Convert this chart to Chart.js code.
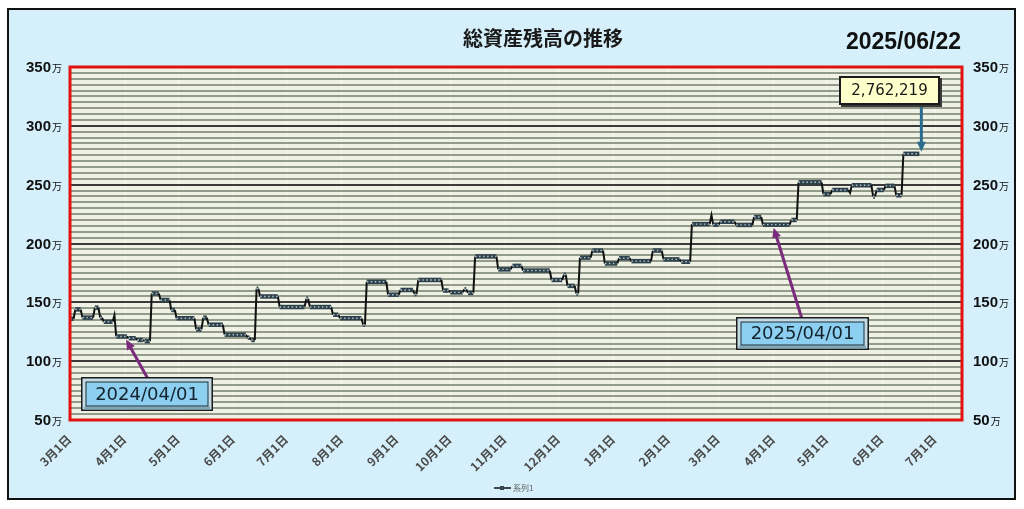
<!DOCTYPE html>
<html>
<head>
<meta charset="utf-8">
<title>総資産残高の推移</title>
<script src="https://cdn.jsdelivr.net/npm/chart.js"></script>
<style>
    body { margin: 0; background: #fff; }
    #wrap { width: 1024px; height: 509px; }
</style>
</head>
<body>
<div id="wrap"><canvas id="assetChart" width="1024" height="509"></canvas></div>
<script>
// 残高 (万円): 値が変わった日 と その値
const startDate = '2024-03-01';
const endDate = '2025-07-16';
const lastDate = '2025-06-22';
const stepDates = [
    '2024-03-01','2024-03-04','2024-03-08','2024-03-15','2024-03-18','2024-03-20','2024-03-26','2024-03-27',
    '2024-04-03','2024-04-08','2024-04-12','2024-04-16','2024-04-21','2024-04-27','2024-04-30','2024-05-11',
    '2024-05-15','2024-05-18','2024-05-27','2024-06-09','2024-06-11','2024-06-14','2024-06-16','2024-06-27',
    '2024-07-12','2024-07-14','2024-07-27','2024-07-31','2024-08-13','2024-08-15','2024-08-27','2024-09-03',
    '2024-09-11','2024-09-13','2024-09-27','2024-10-01','2024-10-09','2024-10-11','2024-10-15','2024-10-28',
    '2024-11-05','2024-11-11','2024-11-27','2024-12-04','2024-12-06','2024-12-11','2024-12-13','2024-12-20',
    '2024-12-27','2025-01-04','2025-01-11','2025-01-23','2025-01-29','2025-02-08','2025-02-14','2025-02-25',
    '2025-02-26','2025-03-02','2025-03-11','2025-03-21','2025-03-26','2025-04-11','2025-04-15','2025-04-29',
    '2025-05-04','2025-05-14','2025-05-15','2025-05-27','2025-05-29','2025-06-03','2025-06-09','2025-06-13'
];
const stepValues = [
    136, 144, 137, 145.5, 137, 133.5, 139, 121,
    119.5, 118, 117, 157.5, 152, 143.5, 136.5, 127,
    137, 131, 122.5, 120, 118, 161.5, 155, 146,
    153, 146, 139.5, 136.5, 131, 167.5, 156.5, 160.5,
    157, 169, 160, 158.5, 161, 158, 189, 178,
    181, 177, 169, 173.5, 164, 157.5, 188, 194,
    183, 187.5, 185, 194, 186.5, 184.5, 216.5, 224,
    216, 218.5, 215.8, 222.5, 216, 220, 252, 242,
    245.5, 243, 249.5, 240, 245.5, 249, 241, 276.2219
];
const monthDates = [
    '2024-03-01','2024-04-01','2024-05-01','2024-06-01','2024-07-01','2024-08-01','2024-09-01','2024-10-01',
    '2024-11-01','2024-12-01','2025-01-01','2025-02-01','2025-03-01','2025-04-01','2025-05-01','2025-06-01','2025-07-01'
];
const monthLabels = ['3月1日','4月1日','5月1日','6月1日','7月1日','8月1日','9月1日','10月1日',
    '11月1日','12月1日','1月1日','2月1日','3月1日','4月1日','5月1日','6月1日','7月1日'];
const yLabels = [50, 100, 150, 200, 250, 300, 350];
const noteDates = ['2024-04-01', '2025-04-01'];

const dayOf = s => (Date.parse(s) - Date.parse(startDate)) / 86400000;

function valueAt(s) {
    let v = stepValues[0];
    stepDates.forEach((d, i) => { if (dayOf(d) <= dayOf(s)) v = stepValues[i]; });
    return v;
}

const points = [];
stepDates.forEach((d, i) => {
    const x0 = dayOf(d);
    const x1 = i < stepDates.length - 1 ? dayOf(stepDates[i + 1]) - 1 : dayOf(lastDate);
    points.push({ x: x0, y: stepValues[i] });
    if (x1 > x0) points.push({ x: x1, y: stepValues[i] });
});

const flat = c => c.p0.parsed.y === c.p1.parsed.y;

function yLabel(ctx, v, x, y, alignRight) {
    const num = String(v);
    ctx.font = 'bold 15px "Liberation Sans"';
    const wn = ctx.measureText(num).width;
    ctx.font = '10px "Noto Sans CJK JP"';
    const wm = ctx.measureText('万').width;
    const left = alignRight ? x - wn - wm - 1 : x;
    ctx.fillStyle = '#111';
    ctx.textAlign = 'left';
    ctx.textBaseline = 'alphabetic';
    ctx.font = 'bold 15px "Liberation Sans"';
    ctx.fillText(num, left, y);
    ctx.font = '10px "Noto Sans CJK JP"';
    ctx.fillText('万', left + wn + 1, y);
}

function arrow(ctx, x0, y0, x1, y1, color) {
    const a = Math.atan2(y1 - y0, x1 - x0);
    const len = 10;
    ctx.strokeStyle = color;
    ctx.fillStyle = color;
    ctx.lineWidth = 3;
    ctx.beginPath();
    ctx.moveTo(x0, y0);
    ctx.lineTo(x1 - Math.cos(a) * len * 0.8, y1 - Math.sin(a) * len * 0.8);
    ctx.stroke();
    ctx.beginPath();
    ctx.moveTo(x1, y1);
    ctx.lineTo(x1 - Math.cos(a) * len + Math.sin(a) * 4.5, y1 - Math.sin(a) * len - Math.cos(a) * 4.5);
    ctx.lineTo(x1 - Math.cos(a) * len - Math.sin(a) * 4.5, y1 - Math.sin(a) * len + Math.cos(a) * 4.5);
    ctx.closePath();
    ctx.fill();
}

function bevelBox(ctx, x, y, w, h, text) {
    ctx.fillStyle = '#1b1b1b';
    ctx.fillRect(x, y, w, h);
    ctx.fillStyle = '#c3dce6';
    ctx.fillRect(x + 1.5, y + 1.5, w - 3, h - 3);
    ctx.fillStyle = '#7ea7b8';
    ctx.fillRect(x + 3, y + h - 4.5, w - 6, 3);
    ctx.fillStyle = '#1f2d36';
    ctx.fillRect(x + 4.5, y + 4.5, w - 9, h - 9);
    ctx.fillStyle = '#8ccff0';
    ctx.fillRect(x + 5.5, y + 5.5, w - 11, h - 11);
    ctx.fillStyle = '#14232e';
    ctx.font = '18px "DejaVu Sans"';
    ctx.textAlign = 'center';
    ctx.textBaseline = 'middle';
    ctx.fillText(text, x + w / 2, y + h / 2 + 1);
}

const decorPlugin = {
    id: 'decor',
    beforeDraw(chart) {
        const ctx = chart.ctx;
        const a = chart.chartArea;
        ctx.save();
        ctx.fillStyle = '#ffffff';
        ctx.fillRect(0, 0, chart.width, chart.height);
        ctx.fillStyle = '#d5f0fb';
        ctx.fillRect(8, 9, 1007, 490);
        ctx.strokeStyle = '#111';
        ctx.lineWidth = 2;
        ctx.strokeRect(8, 9, 1007, 490);
        ctx.fillStyle = '#eef1e3';
        ctx.fillRect(a.left, a.top, a.right - a.left, a.bottom - a.top);
        ctx.restore();
    },
    afterDraw(chart) {
        const ctx = chart.ctx;
        const a = chart.chartArea;
        const xs = chart.scales.x;
        const ys = chart.scales.y;
        ctx.save();

        // 枠
        ctx.strokeStyle = '#e31212';
        ctx.lineWidth = 3;
        ctx.strokeRect(a.left, a.top, a.right - a.left, a.bottom - a.top);

        // タイトル
        ctx.fillStyle = '#1a1a1a';
        ctx.font = 'bold 20px "Noto Sans CJK JP"';
        ctx.textAlign = 'center';
        ctx.textBaseline = 'middle';
        ctx.fillText('総資産残高の推移', 543, 38);
        ctx.font = 'bold 23px "Liberation Sans"';
        ctx.textAlign = 'right';
        ctx.fillStyle = '#111';
        ctx.fillText(lastDate.replace(/-/g, '/'), 961, 43);

        // 目盛ラベル
        yLabels.forEach(v => {
            const y = ys.getPixelForValue(v) + 5;
            yLabel(ctx, v, 62, y, true);
            yLabel(ctx, v, 973, y, false);
        });
        ctx.fillStyle = '#4a4a4a';
        ctx.font = 'bold 12px "Noto Sans CJK JP"';
        ctx.textAlign = 'right';
        ctx.textBaseline = 'middle';
        monthDates.forEach((d, i) => {
            const x = xs.getPixelForValue(dayOf(d));
            ctx.save();
            ctx.translate(x - 1, 437);
            ctx.rotate(-Math.PI / 4);
            ctx.fillText(monthLabels[i], 0, 0);
            ctx.restore();
        });

        // 凡例
        ctx.strokeStyle = '#111';
        ctx.lineWidth = 1.5;
        ctx.beginPath();
        ctx.moveTo(494, 488);
        ctx.lineTo(511, 488);
        ctx.stroke();
        ctx.fillStyle = '#34454f';
        ctx.fillRect(500, 486, 4, 4);
        ctx.fillStyle = '#5a5a5a';
        ctx.font = '8px "Noto Sans CJK JP"';
        ctx.textAlign = 'left';
        ctx.fillText('系列1', 513, 488);

        // 注記
        const t1x = xs.getPixelForValue(dayOf(noteDates[0]));
        const t1y = ys.getPixelForValue(valueAt(noteDates[0])) + 3;
        arrow(ctx, 148, 379, t1x + 1, t1y, '#7b2b7e');
        bevelBox(ctx, 81, 377, 132, 34, noteDates[0].replace(/-/g, '/'));

        const t2x = xs.getPixelForValue(dayOf(noteDates[1]));
        const t2y = ys.getPixelForValue(valueAt(noteDates[1])) + 3;
        arrow(ctx, 802, 319, t2x, t2y, '#7b2b7e');
        bevelBox(ctx, 736, 317, 133, 33, noteDates[1].replace(/-/g, '/'));

        const last = stepValues[stepValues.length - 1];
        const t3x = xs.getPixelForValue(dayOf(lastDate)) + 2;
        const t3y = ys.getPixelForValue(last) - 2;
        arrow(ctx, t3x, 104, t3x, t3y, '#2a6b8e');
        ctx.fillStyle = '#3a3a3a';
        ctx.fillRect(841, 78, 101, 29);
        ctx.fillStyle = '#1b1b1b';
        ctx.fillRect(839, 76, 101, 29);
        ctx.fillStyle = '#ffffcc';
        ctx.fillRect(841, 78, 97, 25);
        ctx.fillStyle = '#1a1a1a';
        ctx.font = '15px "DejaVu Sans"';
        ctx.textAlign = 'center';
        ctx.textBaseline = 'middle';
        ctx.fillText(Math.round(last * 10000).toLocaleString('en-US'), 889.5, 91);

        ctx.restore();
    }
};

const ctx = document.getElementById('assetChart').getContext('2d');
new Chart(ctx, {
    type: 'line',
    data: {
        datasets: [{
            label: '系列1',
            data: points,
            order: 1,
            borderColor: 'rgba(0,0,0,0)',
            borderWidth: 1.4,
            pointRadius: 0,
            borderCapStyle: 'butt',
            segment: {
                borderColor: c => flat(c) ? '#aec2cc' : 'rgba(0,0,0,0)',
                borderDash: c => flat(c) ? [1.5, 2.5] : undefined
            }
        }, {
            label: '系列1',
            data: points,
            order: 2,
            borderColor: '#111',
            borderWidth: 2,
            pointRadius: 0,
            borderCapStyle: 'butt',
            segment: {
                borderColor: c => flat(c) ? '#2f414b' : '#111',
                borderWidth: c => flat(c) ? 4.5 : 2
            }
        }]
    },
    plugins: [decorPlugin],
    options: {
        responsive: false,
        animation: false,
        layout: { padding: { left: 70, top: 67, right: 62, bottom: 89 } },
        plugins: {
            legend: { display: false },
            tooltip: { enabled: false }
        },
        scales: {
            x: {
                type: 'linear',
                min: 0,
                max: dayOf(endDate),
                afterBuildTicks: s => { s.ticks = monthDates.map(d => ({ value: dayOf(d) })); },
                ticks: { display: false },
                grid: { color: '#f8f9f3', lineWidth: 1, drawTicks: false },
                border: { display: false }
            },
            y: {
                min: 50,
                max: 350,
                ticks: { display: false, stepSize: 5 },
                grid: {
                    color: c => c.tick.value % 50 === 0 ? '#3b3b3b' : '#939c8a',
                    lineWidth: 2,
                    drawTicks: false
                },
                border: { display: false }
            }
        }
    }
});
</script>
</body>
</html>
